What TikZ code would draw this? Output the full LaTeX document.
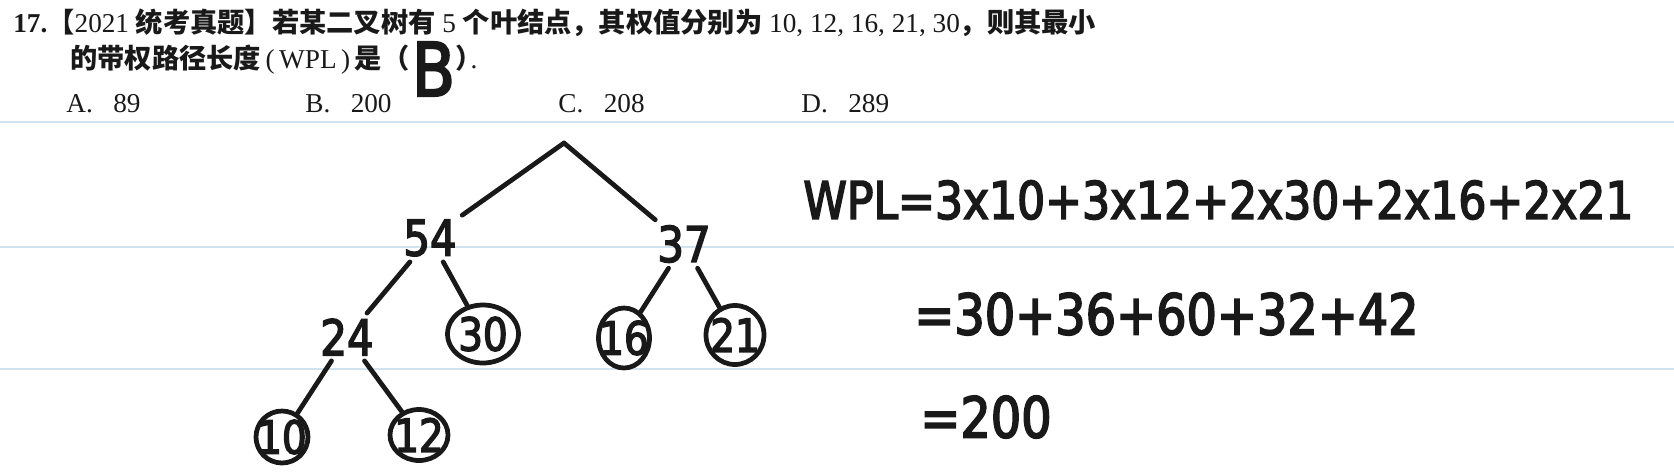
\documentclass[tikz,border=0pt]{standalone}
\usepackage{fontspec}
\usepackage{xcolor}
\usepackage{tikz}
\usetikzlibrary{shapes,positioning}
\setmainfont{Liberation Serif}
\newfontfamily\cjk[Scale=1.0]{Noto Sans CJK SC}
\newfontfamily\hand[FakeStretch=0.85,FakeBold=3]{DejaVu Sans}
\definecolor{ruleblue}{RGB}{210,227,240}
\definecolor{ink}{RGB}{25,25,25}

\begin{document}
\begin{tikzpicture}[
    % Printed question
    printed/.style={anchor=west, inner sep=0pt, text=ink, font=\fontsize{15.5}{18}\selectfont},
    % Notebook ruling
    ruling/.style={ruleblue, line width=1.6pt},
    % Handwritten tree
    inner/.style={inner sep=3pt, text=ink, font=\hand\fontsize{28}{28}\selectfont},
    leaf/.style={ellipse, draw=ink, line width=2.7pt, inner sep=-5pt, text=ink, font=\hand\fontsize{26}{26}\selectfont},
    branch/.style={draw=ink, line width=2.7pt, line cap=round},
    % Handwritten working
    calc/.style={anchor=west, inner sep=0pt, text=ink}
]

% Page
\fill[white] (0,0) rectangle (33.48,-9.46);
\useasboundingbox (0,0) rectangle (33.48,-9.46);
\foreach \y in {-2.44,-4.94,-7.38}
    \draw[ruling] (0,\y) -- (33.48,\y);

% Question text
\node[printed] (stem1) at (0.26,-0.46) {\textbf{17.}{\cjk\bfseries 【}2021 {\cjk\bfseries 统考真题】若某二叉树有}~5~{\cjk\bfseries 个叶结点，其权值分别为}~10, 12, 16, 21, 30{\cjk\bfseries ，则其最小}};
\node[printed] (stem2) at (1.40,-1.20) {{\cjk\bfseries 的带权路径长度}\,(\,WPL\,)\,{\cjk\bfseries 是（}};
\node[inner sep=0pt, text=ink, font=\hand\fontsize{42}{42}\selectfont, right=0.04cm of stem2, yshift=-0.18cm] (answer) {B};
\node[printed, anchor=base west] (stem2end) at (answer.east |- stem2.base) {{\cjk\bfseries ）}\kern-0.45em.};

% Options
\node[printed] (optA) at (1.32,-2.08) {A.\hspace{0.75em}89};
\node[printed] (optB) at (6.10,-2.08) {B.\hspace{0.75em}200};
\node[printed] (optC) at (11.16,-2.08) {C.\hspace{0.75em}208};
\node[printed] (optD) at (16.02,-2.08) {D.\hspace{0.75em}289};

% Huffman tree
\coordinate (root) at (11.28,-2.86);
\node[inner] (n54) at (8.60,-4.76) {54};
\node[inner] (n37) at (13.68,-4.88) {37};
\node[inner] (n24) at (6.94,-6.74) {24};
\node[leaf, minimum width=1.42cm, minimum height=1.16cm] (n30) at (9.66,-6.68) {30};
\node[leaf, minimum width=1.02cm, minimum height=1.2cm] (n16) at (12.48,-6.76) {16};
\node[leaf, minimum width=1.16cm, minimum height=1.18cm] (n21) at (14.70,-6.70) {21};
\node[leaf, minimum width=1.04cm, minimum height=1.04cm] (n10) at (5.64,-8.74) {10};
\node[leaf, minimum width=1.16cm, minimum height=1.02cm] (n12) at (8.38,-8.70) {12};

\draw[branch] (root) -- (n54);
\draw[branch] (root) -- (n37);
\draw[branch] (n54) -- (n24);
\draw[branch] (n54) -- (n30);
\draw[branch] (n37) -- (n16);
\draw[branch] (n37) -- (n21);
\draw[branch] (n24) -- (n10);
\draw[branch] (n24) -- (n12);

% WPL working
\node[calc, font=\hand\fontsize{29.5}{29.5}\selectfont] (wpl) at (16.06,-4.00) {WPL=3x10+3x12+2x30+2x16+2x21};
\node[calc, font=\hand\fontsize{32}{32}\selectfont] (terms) at (18.28,-6.28) {=30+36+60+32+42};
\node[calc, font=\hand\fontsize{32}{32}\selectfont] (total) at (18.40,-8.34) {=200};
\end{tikzpicture}
\end{document}
